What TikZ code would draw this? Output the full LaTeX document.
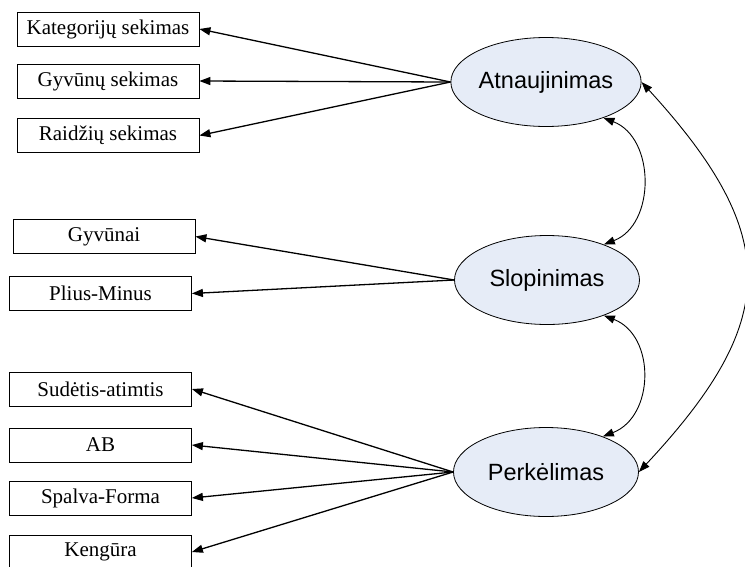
\documentclass[tikz,border=0pt]{standalone}
\usepackage{fontspec}
\setmainfont{Liberation Serif}
\newfontfamily\sansf{Liberation Sans}
\usetikzlibrary{arrows.meta,shapes.geometric}
\definecolor{ellfill}{RGB}{230,236,247}
\tikzset{
  box/.style={draw, line width=0.8pt, minimum width=182pt, minimum height=34pt, inner sep=0pt,
    font=\fontsize{21}{25}\selectfont},
  latent/.style={draw, ellipse, fill=ellfill, line width=0.8pt, minimum width=185pt, minimum height=89pt,
    inner sep=0pt, font=\sansf\fontsize{23.5}{28}\selectfont},
  arr/.style={line width=1.3pt, -{Triangle[length=11pt,width=8pt]}},
  cov/.style={line width=0.9pt, {Triangle[length=11pt,width=8pt]}-{Triangle[length=11pt,width=8pt]}}
}
\begin{document}
\begin{tikzpicture}[x=1pt,y=-1pt]
\useasboundingbox (0,0) rectangle (745,566);
\node[box] (b1) at (108,29) {Kategorijų sekimas};
\node[box] (b2) at (108,81) {Gyvūnų sekimas};
\node[box] (b3) at (108,135.5) {Raidžių sekimas};
\node[box] (b4) at (104,236.5) {Gyvūnai};
\node[box] (b5) at (100.5,293.5) {Plius-Minus};
\node[box] (b6) at (100.5,389) {Sudėtis-atimtis};
\node[box] (b7) at (100.5,445) {AB};
\node[box] (b8) at (100.5,498) {Spalva-Forma};
\node[box] (b9) at (100.5,552) {Kengūra};
\node[latent] (A) at (546,82) {Atnaujinimas};
\node[latent] (S) at (547,280) {Slopinimas};
\node[latent] (P) at (546,472) {Perkėlimas};
\foreach \b in {b1,b2,b3} \draw[arr] (A.west) -- (\b.east);
\foreach \b in {b4,b5} \draw[arr] (S.west) -- (\b.east);
\foreach \b in {b6,b7,b8,b9} \draw[arr] (P.west) -- (\b.east);
\draw[cov] (A.-32) .. controls +(52,20) and +(52,-20) .. (S.32);
\draw[cov] (S.-32) .. controls +(52,20) and +(52,-20) .. (P.32);
\draw[cov] (A.east) .. controls +(142,155) and +(140,-150) .. (P.east);
\end{tikzpicture}
\end{document}
